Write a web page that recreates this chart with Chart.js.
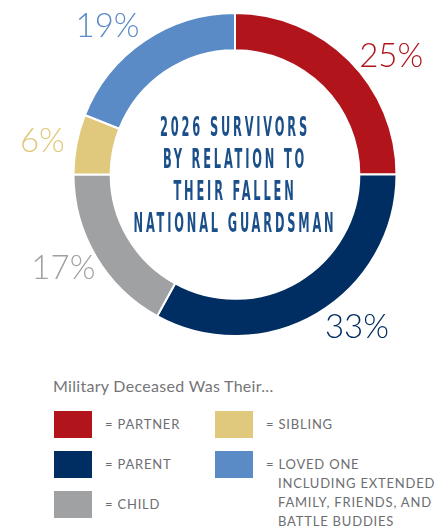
<!DOCTYPE html>
<html>
<head>
<meta charset="utf-8">
<script src="https://cdn.jsdelivr.net/npm/chart.js@4/dist/chart.umd.min.js"></script>
<style>
  body { margin: 0; background: #fff; width: 439px; height: 527px; position: relative; overflow: hidden; font-family: Lato, "Open Sans", sans-serif; }
  #wrap { position: absolute; left: 0; top: 0; width: 439px; height: 360px; }
  .center-title {
    position: absolute; left: 235px; top: 175px; white-space: nowrap;
    transform: translate(-50%, -50%) scaleX(0.47);
    text-align: center; color: #1b4f8a;
    font-family: "Liberation Sans Narrow", "DejaVu Sans Condensed", sans-serif;
    font-weight: bold; font-size: 27px; line-height: 32px; letter-spacing: 6px;
  }
  .legend-title { position: absolute; left: 53px; top: 376px; color: #747578; font-size: 16px; letter-spacing: 0.3px; }
  .legend { position: absolute; left: 54px; top: 411px; display: grid; grid-template-columns: 161px 170px; grid-template-rows: repeat(3, 40px); grid-auto-flow: column; }
  .legend__item { display: flex; align-items: flex-start; position: relative; }
  .legend__swatch { width: 38px; height: 27px; flex: none; }
  .legend__text { margin-left: 13px; color: #6d6e71; font-size: 13px; letter-spacing: 0.8px; line-height: 19px; margin-top: 4px; white-space: nowrap; }
  .legend__sub { display: block; padding-left: 12px; }
</style>
</head>
<body>
<div id="wrap"><canvas id="chart" width="439" height="360"></canvas></div>
<div class="center-title">2026 SURVIVORS<br>BY RELATION TO<br>THEIR FALLEN<br>NATIONAL GUARDSMAN</div>
<div class="legend-title">Military Deceased Was Their...</div>
<div class="legend" id="legend"></div>
<script>
const labels = ['PARTNER', 'PARENT', 'CHILD', 'SIBLING', 'LOVED ONE'];
const shares = [25, 33, 17, 6, 19];
const colors = ['#b2141c', '#002e62', '#a0a1a3', '#e0c97c', '#5b8bc7'];
const notes = ['', '', '', '', 'INCLUDING EXTENDED<br>FAMILY, FRIENDS, AND<br>BATTLE BUDDIES'];

// small angle tweaks (degrees) so the % labels sit where the original has them
const labelNudge = [8, -8, 2, -1, -6.5];

const pctLabels = {
    id: 'pctLabels',
    afterDatasetsDraw(chart) {
        const ctx = chart.ctx;
        const meta = chart.getDatasetMeta(0);
        ctx.save();
        ctx.font = '300 33px Lato, "Open Sans", sans-serif';
        ctx.textAlign = 'center';
        ctx.textBaseline = 'middle';
        meta.data.forEach((arc, i) => {
            const p = arc.getProps(['x', 'y', 'startAngle', 'endAngle', 'outerRadius'], true);
            const mid = (p.startAngle + p.endAngle) / 2 + labelNudge[i] * Math.PI / 180;
            const r = p.outerRadius + 34;
            ctx.fillStyle = colors[i];
            ctx.fillText(shares[i] + '%', p.x + Math.cos(mid) * r, p.y + Math.sin(mid) * r);
        });
        ctx.restore();
    },
};

new Chart(document.getElementById('chart'), {
    type: 'doughnut',
    data: {
        labels: labels,
        datasets: [{
            data: shares,
            backgroundColor: colors,
            borderColor: '#ffffff',
            borderWidth: 2,
            hoverOffset: 0,
        }],
    },
    options: {
        responsive: false,
        animation: false,
        cutout: '77%',
        layout: { padding: { top: 12, bottom: 23, left: 72, right: 41 } },
        plugins: { legend: { display: false }, tooltip: { enabled: false } },
    },
    plugins: [pctLabels],
});

document.getElementById('legend').innerHTML = labels.map((name, i) => `
  <div class="legend__item">
    <span class="legend__swatch" style="background:${colors[i]}"></span>
    <span class="legend__text">= ${name}${notes[i] === '' ? '' : `<span class="legend__sub">${notes[i]}</span>`}</span>
  </div>`).join('');
</script>
</body>
</html>
